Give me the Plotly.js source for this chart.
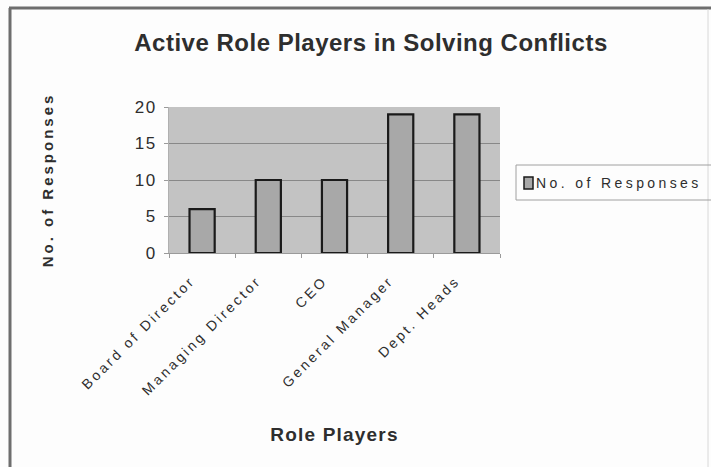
<!DOCTYPE html>
<html>
<head>
<meta charset="utf-8">
<script src="https://cdn.plot.ly/plotly-3.0.1.min.js"></script>
<style>
  html, body { margin: 0; padding: 0; background: #ffffff; }
  #chart { width: 711px; height: 467px; }
  /* wide, spaced lettering of the chart texts (also applied while Plotly measures them) */
  .gtitle { letter-spacing: 0.5px; }
  .xtitle { letter-spacing: 1.2px; }
  .ytitle { letter-spacing: 3px; }
  .xtick text { letter-spacing: 2.8px; }
  .ytick text { letter-spacing: 1.5px; }
  .annotation-text { letter-spacing: 3.4px; }
</style>
</head>
<body>
<div id="chart"></div>
<script>
// Who takes an active part in solving conflicts
const rolePlayers = ["Board of Director", "Managing Director", "CEO", "General Manager", "Dept. Heads"];
const responses = [6, 10, 10, 19, 19];
const seriesName = "No. of Responses";
const yTicks = [0, 5, 10, 15, 20];

const W = 711, H = 467;
const M = { l: 169, r: 211, t: 107, b: 214 };
const plotW = W - M.l - M.r, plotH = H - M.t - M.b;
// pixel -> paper helpers for decorations
const px = x => (x - M.l) / plotW;
const py = y => (H - M.b - y) / plotH;

const font = "Liberation Sans, Arial, sans-serif";
const ink = "#2e2e2e";

const trace = {
  type: "bar",
  x: rolePlayers,
  y: responses,
  name: seriesName,
  marker: { color: "#a8a8a8", line: { color: "#1a1a1a", width: 2.2 } },
  showlegend: false,
  hoverinfo: "x+y"
};

const shapes = [
  // outer chart frame
  { type: "line", xref: "paper", yref: "paper", x0: px(10), x1: px(10), y0: py(8), y1: py(470), line: { color: "#6e6e6e", width: 3 } },
  { type: "line", xref: "paper", yref: "paper", x0: px(9), x1: px(715), y0: py(8), y1: py(8), line: { color: "#6e6e6e", width: 3 } },
  { type: "line", xref: "paper", yref: "paper", x0: px(708), x1: px(708), y0: py(9), y1: py(470), line: { color: "#d8d8d8", width: 1 } },
  // legend box and swatch
  { type: "rect", xref: "paper", yref: "paper", x0: px(516), x1: px(720), y0: py(165), y1: py(200), line: { color: "#a0a0a0", width: 1 }, fillcolor: "rgba(0,0,0,0)" },
  { type: "rect", xref: "paper", yref: "paper", x0: px(524), x1: px(533), y0: py(177), y1: py(189), line: { color: "#1a1a1a", width: 1.5 }, fillcolor: "#a8a8a8" }
];

const annotations = [
  { xref: "paper", yref: "paper", x: px(534), y: py(183), xanchor: "left", yanchor: "middle",
    text: seriesName, showarrow: false, font: { family: font, size: 14, color: ink } }
];

const layout = {
  width: W, height: H,
  margin: M,
  paper_bgcolor: "#fdfdfd",
  plot_bgcolor: "#c3c3c3",
  bargap: 0.62,
  title: {
    text: "<b>Active Role Players in Solving Conflicts</b>",
    font: { family: font, size: 24, color: ink },
    x: 371 / W, xref: "container", xanchor: "center",
    y: 1 - 43 / H, yref: "container", yanchor: "middle"
  },
  xaxis: {
    type: "category",
    tickangle: -45,
    tickfont: { family: font, size: 14, color: ink },
    ticks: "outside", tickson: "boundaries", ticklen: 4, tickcolor: "#9a9a9a",
    ticklabelstandoff: 13, ticklabelshift: -11,
    showline: true, linecolor: "#9a9a9a", linewidth: 1,
    showgrid: false,
    title: { text: "<b>Role Players</b>", font: { family: font, size: 19, color: ink }, standoff: 30 },
    automargin: false
  },
  yaxis: {
    range: [0, 20],
    tickvals: yTicks,
    tickfont: { family: font, size: 17, color: ink },
    ticks: "outside", ticklen: 4, tickcolor: "#9a9a9a",
    ticklabelstandoff: 4,
    showline: true, linecolor: "#b0b0b0", linewidth: 1,
    showgrid: true, gridcolor: "#888888", gridwidth: 1,
    zeroline: false,
    title: { text: "<b>No. of Responses</b>", font: { family: font, size: 15, color: ink }, standoff: 77 },
    automargin: false
  },
  shapes: shapes,
  annotations: annotations
};

Plotly.newPlot("chart", [trace], layout, { staticPlot: true, displayModeBar: false });
</script>
</body>
</html>
